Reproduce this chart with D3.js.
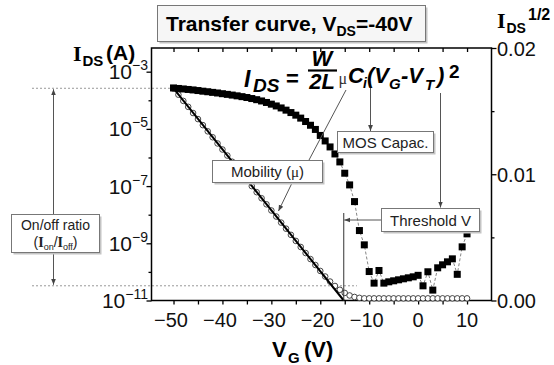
<!DOCTYPE html>
<html><head><meta charset="utf-8">
<script src="https://cdn.jsdelivr.net/npm/d3@7"></script>
<style>
html,body{margin:0;padding:0;background:#fff;}
svg{display:block;font-family:"Liberation Sans",Arial,sans-serif;}
</style></head>
<body><svg id="c" width="554" height="365"></svg>
<script>
// ---------------- data ----------------
const vg = [-50,-49,-48,-47,-46,-45,-44,-43,-42,-41,-40,-39,-38,-37,-36,-35,-34,-33,-32,-31,
  -30,-29,-28,-27,-26,-25,-24,-23,-22,-21,-20,-19,-18,-17,-16,-15,-14,-13,-12,-11,
  -10,-9,-8,-7,-6,-5,-4,-3,-2,-1,0,1,2,3,4,5,6,7,8,9,10];
const ids = [
  2.70e-4, 2.59e-4, 2.49e-4, 2.39e-4, 2.30e-4,
  2.19e-4, 2.08e-4, 1.99e-4, 1.89e-4, 1.80e-4,
  1.70e-4, 1.61e-4, 1.52e-4, 1.43e-4, 1.34e-4,
  1.25e-4, 1.15e-4, 1.05e-4, 9.47e-5, 8.39e-5,
  7.32e-5, 6.34e-5, 5.40e-5, 4.52e-5, 3.72e-5,
  3.02e-5, 2.38e-5, 1.81e-5, 1.34e-5, 9.57e-6,
  5.90e-6, 3.79e-6, 2.34e-6, 1.33e-6, 7.00e-7,
  2.82e-7, 1.10e-7, 2.87e-8, 2.79e-9, 8.82e-10,
  1.03e-10, 4.05e-11, 1.12e-10, 4.05e-11, 4.50e-11,
  4.88e-11, 5.29e-11, 5.73e-11, 6.21e-11, 6.73e-11,
  7.59e-11, 3.26e-11, 1.01e-10, 2.31e-11, 1.39e-10,
  1.77e-10, 2.25e-10, 2.86e-10, 8.22e-11, 7.51e-10,
  2.14e-9];
const sqrtIds = [
  0.01678, 0.01630, 0.01581, 0.01534, 0.01485,
  0.01437, 0.01389, 0.01340, 0.01293, 0.01244,
  0.01196, 0.01148, 0.01099, 0.01052, 0.01003,
  0.00955, 0.00906, 0.00858, 0.00810, 0.00762,
  0.00713, 0.00665, 0.00617, 0.00569, 0.00520,
  0.00472, 0.00424, 0.00376, 0.00328, 0.00281,
  0.00234, 0.00190, 0.00150, 0.00115, 0.00085,
  0.00060, 0.00040, 0.00028, 0.00021, 0.00017,
  0.00017, 0.00017, 0.00017, 0.00017, 0.00017,
  0.00017, 0.00017, 0.00017, 0.00017, 0.00017,
  0.00017, 0.00017, 0.00017, 0.00017, 0.00017,
  0.00017, 0.00017, 0.00017, 0.00017, 0.00017,
  0.00017];
const fitV = [-50, -15.2];
const fitS = [0.0168, 0];
const vT = -15.2;
const ionLevel = 2.63e-4, ioffLevel = 3.27e-11;
const xTicks = [-50,-45,-40,-35,-30,-25,-20,-15,-10,-5,0,5,10];
const xLabels = [-50,-40,-30,-20,-10,0,10];
const leftDecades = [-11,-10,-9,-8,-7,-6,-5,-4,-3];
const leftLabelExp = [-11,-9,-7,-5,-3];
const rightTicks = [0,0.005,0.01,0.015,0.02];
const rightLabels = [0,0.01,0.02];

// ---------------- scales ----------------
const svg = d3.select("#c");
const X0=151.5, X1=491.5, Y0=48, Y1=300.5;
const x = d3.scaleLinear().domain([-54.5, 15]).range([X0, X1]);
const yL = d3.scaleLog().domain([1e-11, Math.pow(10,-2.172)]).range([Y1, Y0]);
const yR = d3.scaleLinear().domain([0, 0.02]).range([Y1, Y0]);

const defs = svg.append("defs");
defs.append("marker").attr("id","ah").attr("viewBox","0 0 10 10").attr("refX",10).attr("refY",5)
  .attr("markerWidth",6).attr("markerHeight",6).attr("orient","auto")
  .append("path").attr("d","M0,1 L10,5 L0,9 Z").attr("fill","#444");

// ---------------- dotted reference lines ----------------
svg.append("line").attr("x1",32).attr("x2",x(vg[0])).attr("y1",yL(ionLevel)).attr("y2",yL(ionLevel))
  .attr("stroke","#999").attr("stroke-width",1).attr("stroke-dasharray","2,2");
svg.append("line").attr("x1",32).attr("x2",x(-12.5)).attr("y1",yL(ioffLevel)).attr("y2",yL(ioffLevel))
  .attr("stroke","#999").attr("stroke-width",1).attr("stroke-dasharray","2,2");

// ---------------- axes ----------------
const fmtX = d => (d<0 ? "\u2212"+Math.abs(d) : ""+d);
const gB = svg.append("g").attr("transform",`translate(0,${Y1})`)
  .call(d3.axisBottom(x).tickValues(xTicks).tickSizeInner(4).tickSizeOuter(0).tickFormat(""));
const gT = svg.append("g").attr("transform",`translate(0,${Y0})`)
  .call(d3.axisTop(x).tickValues(xTicks).tickSizeInner(-4).tickSizeOuter(0).tickFormat(""));
const gL = svg.append("g").attr("transform",`translate(${X0},0)`)
  .call(d3.axisLeft(yL).tickValues(leftDecades.map(e=>Math.pow(10,e))).tickSizeInner(4).tickSizeOuter(0).tickFormat(""));
const gR = svg.append("g").attr("transform",`translate(${X1},0)`)
  .call(d3.axisRight(yR).tickValues(rightTicks).tickSizeInner(5).tickSizeOuter(0).tickFormat(""));
[gB,gT,gL,gR].forEach(g=>{ g.select(".domain").remove(); g.selectAll("line").attr("stroke","#000").attr("stroke-width",1.3); });
gL.selectAll(".tick line").attr("x2", d => leftLabelExp.includes(Math.round(Math.log10(d))) ? -5 : -3);
gR.selectAll(".tick line").attr("x2", d => rightLabels.includes(d) ? 5 : 3);

svg.append("rect").attr("x",X0).attr("y",Y0).attr("width",X1-X0).attr("height",Y1-Y0)
  .attr("fill","none").attr("stroke","#000").attr("stroke-width",1.5);

// x tick labels
svg.append("g").selectAll("text").data(xLabels).join("text")
  .attr("x", d=>x(d)).attr("dx", d=> d<0 ? -2.5 : 0).attr("y", 327).attr("text-anchor","middle")
  .attr("font-size",20).attr("fill","#111").text(fmtX);
// left tick labels 10^n
const lt = svg.append("g").selectAll("text").data(leftLabelExp).join("text")
  .attr("x", 148).attr("y", d=>yL(Math.pow(10,d))+7.5).attr("text-anchor","end").attr("fill","#111");
lt.append("tspan").attr("font-size",21).text("10");
lt.append("tspan").attr("font-size",14).attr("dy",-9).text(d=>"\u2212"+Math.abs(d));
// right tick labels
svg.append("g").selectAll("text").data(rightLabels).join("text")
  .attr("x", 497).attr("y", d=>yR(d)+7.5).attr("font-size",20).attr("fill","#111")
  .text(d=>d3.format(".2f")(d));

// ---------------- data marks ----------------
const pts = vg.map((v,i)=>({v, i: ids[i], s: sqrtIds[i]}));
// sqrt(I) circles
svg.append("g").selectAll("circle").data(pts).join("circle")
  .attr("cx",d=>x(d.v)).attr("cy",d=>yR(d.s)).attr("r",2.8)
  .attr("fill","#fff").attr("stroke","#333").attr("stroke-width",0.9);
// fit line
svg.append("path").datum(fitV.map((v,i)=>({v, s: fitS[i]})))
  .attr("d", d3.line().x(d=>x(d.v)).y(d=>yR(d.s)))
  .attr("stroke","#000").attr("stroke-width",2).attr("fill","none");
// log(I) connecting dashed line
svg.append("path").datum(pts)
  .attr("d", d3.line().x(d=>x(d.v)).y(d=>yL(d.i)))
  .attr("stroke","#666").attr("stroke-width",0.8).attr("stroke-dasharray","3,2").attr("fill","none");
// squares
const sq = 7;
svg.append("g").selectAll("rect").data(pts).join("rect")
  .attr("x",d=>x(d.v)-sq/2).attr("y",d=>yL(d.i)-sq/2).attr("width",sq).attr("height",sq)
  .attr("fill","#000");

// threshold vertical line
svg.append("line").attr("x1",x(vT)).attr("x2",x(vT)).attr("y1",213).attr("y2",Y1)
  .attr("stroke","#333").attr("stroke-width",1);

// ---------------- annotation lines ----------------
function arrow(x1,y1,x2,y2,head){
  const l = svg.append("line").attr("x1",x1).attr("y1",y1).attr("x2",x2).attr("y2",y2)
    .attr("stroke","#555").attr("stroke-width",1);
  if(head) l.attr("marker-end","url(#ah)");
}
arrow(53.5,214,53.5,yL(ionLevel)+1,true);
arrow(53.5,253,53.5,yL(ioffLevel)-1,true);
arrow(370.5,88,370.5,131,true);
arrow(440.5,93,440.5,207.5,true);
arrow(381,220,x(vT)+0.5,220,true);
arrow(346,90,309,160,false);
arrow(292,183,278.5,211,true);

// ---------------- boxes ----------------
function box(x0,y0,w,h,fill){
  svg.append("rect").attr("x",x0+2).attr("y",y0+2).attr("width",w).attr("height",h).attr("fill","#c4c4c4");
  svg.append("rect").attr("x",x0).attr("y",y0).attr("width",w).attr("height",h)
    .attr("fill",fill).attr("stroke","#777").attr("stroke-width",1);
}
box(157.5,5.5,268,36,"#f6f6f6");
box(11.5,214.5,88,38,"#fff");
box(212.5,160.5,110,22,"#fff");
box(337.5,131.5,96,21,"#fff");
box(381.5,208.5,98,23,"#fff");

function txt(x0,y0,size,str,opt={}){
  const t = svg.append("text").attr("x",x0).attr("y",y0).attr("font-size",size).attr("fill",opt.fill||"#000").text(str);
  if(opt.bold) t.attr("font-weight","bold");
  if(opt.italic) t.attr("font-style","italic");
  if(opt.serif) t.attr("font-family","'Liberation Serif','Times New Roman',serif");
  if(opt.anchor) t.attr("text-anchor",opt.anchor);
  return t;
}
// title
const tt = svg.append("text").attr("x",166).attr("y",31).attr("font-size",21).attr("font-weight","bold");
tt.append("tspan").text("Transfer curve, V");
tt.append("tspan").attr("font-size",14).attr("dy",5).text("DS");
tt.append("tspan").attr("dy",-5).text("=-40V");

// axis titles
txt(73,61,22,"I",{bold:true,serif:true});
txt(82.5,66,15,"DS",{bold:true});
txt(106,60,21,"(A)",{bold:true});

txt(497,28,22,"I",{bold:true,serif:true});
txt(506.5,33,14,"DS",{bold:true});
txt(528,20,16,"1/2",{bold:true});

txt(272,357,22,"V",{bold:true});
txt(288,363,15,"G",{bold:true});
txt(304,357,22,"(V)",{bold:true});

// formula
txt(244,87,23,"I",{bold:true,italic:true});
txt(253,92,19,"DS",{bold:true,italic:true});
txt(286,86,22,"=",{bold:true});
txt(322,66,22,"W",{bold:true,italic:true,anchor:"middle"});
svg.append("line").attr("x1",308).attr("x2",337).attr("y1",70.5).attr("y2",70.5).attr("stroke","#000").attr("stroke-width",2.2);
txt(322,89,22,"2L",{bold:true,italic:true,anchor:"middle"});
txt(338.5,84,16,"\u03bc",{serif:true,fill:"#333"});
txt(348,83,22,"C",{bold:true,italic:true});
txt(363,88,14,"i",{bold:true,italic:true});
txt(367,83,22,"(V",{bold:true,italic:true});
txt(389,89,15,"G",{bold:true,italic:true});
txt(401,83,22,"-V",{bold:true,italic:true});
txt(425,90,15,"T",{bold:true,italic:true});
txt(437,83,22,")",{bold:true,italic:true});
txt(449,78,19,"2",{bold:true});

// box labels
txt(55.5,230,14,"On/off ratio",{anchor:"middle",fill:"#222"});
const oo = svg.append("text").attr("x",55.5).attr("y",246.5).attr("text-anchor","middle").attr("font-size",14).attr("fill","#222");
oo.append("tspan").text("(");
oo.append("tspan").attr("font-family","'Liberation Serif',serif").attr("font-weight","bold").text("I");
oo.append("tspan").attr("font-size",9).attr("dy",3).text("on");
oo.append("tspan").attr("dy",-3).text("/");
oo.append("tspan").attr("font-family","'Liberation Serif',serif").attr("font-weight","bold").text("I");
oo.append("tspan").attr("font-size",9).attr("dy",3).text("off");
oo.append("tspan").attr("dy",-3).text(")");

const mb = svg.append("text").attr("x",267.5).attr("y",177).attr("text-anchor","middle").attr("font-size",15).attr("fill","#222");
mb.append("tspan").text("Mobility (");
mb.append("tspan").attr("font-family","'Liberation Serif',serif").text("\u03bc");
mb.append("tspan").text(")");
txt(385.5,147.5,15,"MOS Capac.",{anchor:"middle",fill:"#222"});
txt(430.5,225.5,15,"Threshold V",{anchor:"middle",fill:"#222"});
</script>
</body></html>
